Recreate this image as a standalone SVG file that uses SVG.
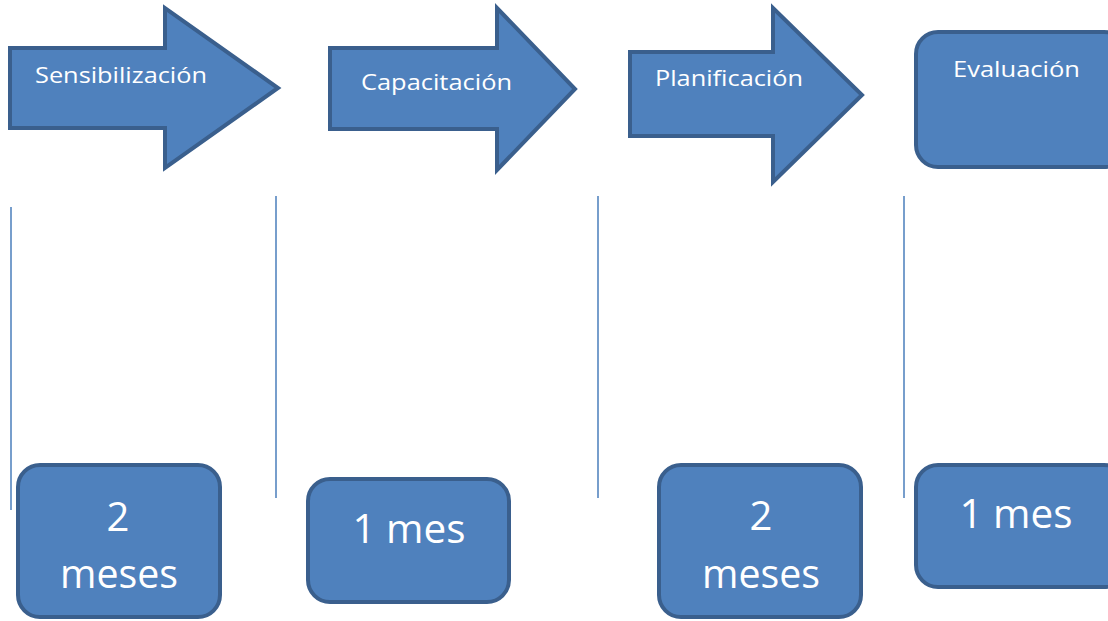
<svg xmlns="http://www.w3.org/2000/svg" width="1108" height="621" viewBox="0 0 1108 621">
<style>
.shape{fill:#4f81bd;stroke:#3a5f8d;stroke-width:4;stroke-linejoin:miter}
.t{fill:#ffffff;font-family:"Open Sans","Liberation Sans",Arial,sans-serif}
.s{font-size:22px}
.b{font-size:40px;text-anchor:middle}
.ln{stroke:#4a7ebb;stroke-width:1.5;fill:none}
</style>
<rect width="1108" height="621" fill="#ffffff"/>
<g id="connectors">
<line class="ln" x1="11" y1="207" x2="11" y2="510"/>
<line class="ln" x1="276" y1="196" x2="276" y2="498"/>
<line class="ln" x1="598" y1="196" x2="598" y2="498"/>
<line class="ln" x1="904" y1="196" x2="904" y2="498"/>
</g>
<g id="sensibilizacion">
<polygon class="shape" points="10,48 165,48 165,8 278,88 165,168 165,128 10,128"/>
<text class="t s" x="35" y="83" textLength="172" lengthAdjust="spacingAndGlyphs">Sensibilización</text>
</g>
<g id="capacitacion">
<polygon class="shape" points="330,48 497,48 497,8 575,89 497,170 497,129 330,129"/>
<text class="t s" x="361" y="90" textLength="151" lengthAdjust="spacingAndGlyphs">Capacitación</text>
</g>
<g id="planificacion">
<polygon class="shape" points="630,52 773,52 773,8 862,95 773,182 773,136 630,136"/>
<text class="t s" x="655" y="86" textLength="148" lengthAdjust="spacingAndGlyphs">Planificación</text>
</g>
<g id="evaluacion">
<rect class="shape" x="916" y="32" width="210" height="135" rx="22" ry="22"/>
<text class="t s" x="953" y="77" textLength="127" lengthAdjust="spacingAndGlyphs">Evaluación</text>
</g>
<g id="dur1">
<rect class="shape" x="18" y="465" width="202" height="152" rx="22" ry="22"/>
<text class="t b" x="118" y="531">2</text>
<text class="t b" x="119" y="588" textLength="118" lengthAdjust="spacingAndGlyphs">meses</text>
</g>
<g id="dur2">
<rect class="shape" x="308" y="479" width="201" height="123" rx="22" ry="22"/>
<text class="t b" x="409" y="543" textLength="113" lengthAdjust="spacingAndGlyphs">1 mes</text>
</g>
<g id="dur3">
<rect class="shape" x="659" y="465" width="202" height="152" rx="22" ry="22"/>
<text class="t b" x="761" y="530">2</text>
<text class="t b" x="761" y="588" textLength="118" lengthAdjust="spacingAndGlyphs">meses</text>
</g>
<g id="dur4">
<rect class="shape" x="916" y="465" width="210" height="122" rx="22" ry="22"/>
<text class="t b" x="1016" y="528" textLength="113" lengthAdjust="spacingAndGlyphs">1 mes</text>
</g>
</svg>
